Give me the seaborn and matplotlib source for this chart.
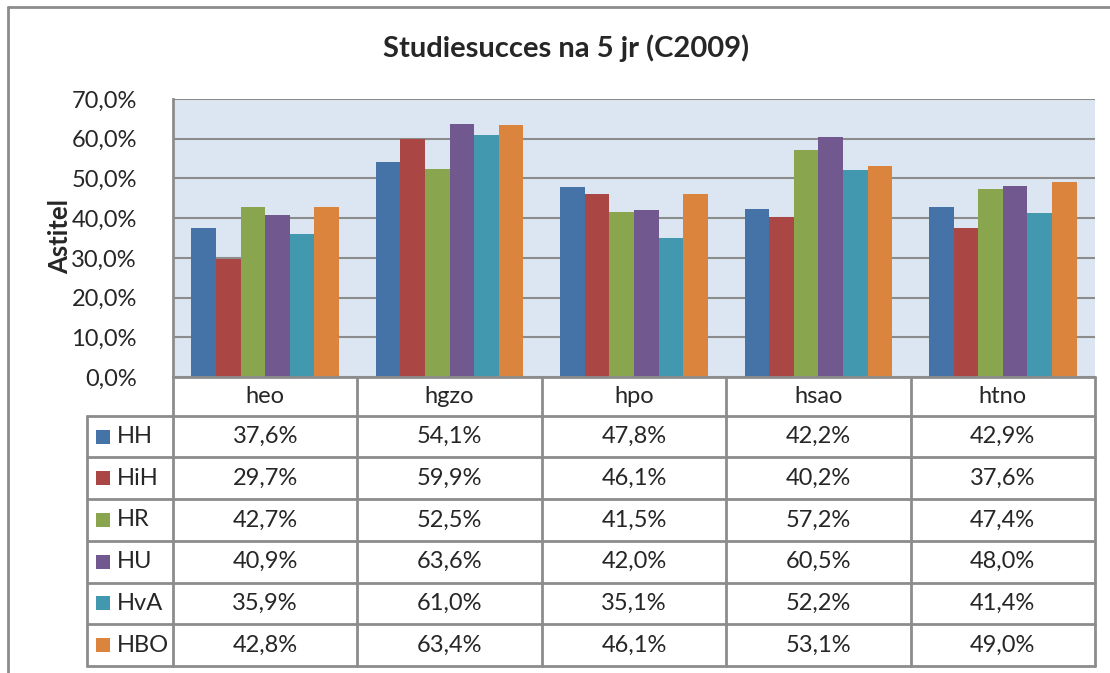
import matplotlib
matplotlib.use("Agg")
import matplotlib.pyplot as plt
import seaborn as sns
import pandas as pd

categories = ["heo", "hgzo", "hpo", "hsao", "htno"]
series_names = ["HH", "HiH", "HR", "HU", "HvA", "HBO"]
hh = [37.6, 54.1, 47.8, 42.2, 42.9]
hih = [29.7, 59.9, 46.1, 40.2, 37.6]
hr = [42.7, 52.5, 41.5, 57.2, 47.4]
hu = [40.9, 63.6, 42.0, 60.5, 48.0]
hva = [35.9, 61.0, 35.1, 52.2, 41.4]
hbo = [42.8, 63.4, 46.1, 53.1, 49.0]
yticks = [0, 10, 20, 30, 40, 50, 60, 70]
title = "Studiesucces na 5 jr (C2009)"
ylabel = "Astitel"

colors = ["#4572A7", "#AA4643", "#89A54E", "#71588F", "#4198AF", "#DB843D"]
all_values = [hh, hih, hr, hu, hva, hbo]

rows = []
for name, vals in zip(series_names, all_values):
    for c, v in zip(categories, vals):
        rows.append({"cat": c, "series": name, "value": v})
df = pd.DataFrame(rows)

sns.set_theme(style="white")
plt.rcParams["font.family"] = ["Lato", "DejaVu Sans"]

W, H = 1110, 673
fig = plt.figure(figsize=(W / 100, H / 100), dpi=100)
fig.patch.set_facecolor("white")

pl, pt, pr, pb = 173, 99, 1095, 377
ax = fig.add_axes([pl / W, 1 - pb / H, (pr - pl) / W, (pb - pt) / H])
ax.set_facecolor("#DCE6F2")
sns.barplot(data=df, x="cat", y="value", hue="series", order=categories,
            hue_order=series_names, palette=colors, saturation=1, width=0.8,
            gap=0, edgecolor="none", linewidth=0, legend=False, ax=ax, zorder=3)
ax.set_ylim(0, 70)
ax.set_xlim(-0.5, len(categories) - 0.5)
ax.set_yticks(yticks)
ax.set_yticklabels([f"{t:.1f}".replace(".", ",") + "%" for t in yticks], fontsize=17)
ax.tick_params(axis="y", length=0, pad=26)
ax.set_xticks([])
ax.set_xlabel("")
ax.set_ylabel("")
ax.grid(axis="y", color="#8C8C8C", linewidth=1.5, zorder=0)
ax.set_axisbelow(True)
for s in ["right", "bottom", "top"]:
    ax.spines[s].set_visible(False)
ax.spines["left"].set_color("#8C8C8C")
ax.spines["left"].set_linewidth(2)

# decoration / table overlay in pixel coordinates
d = fig.add_axes([0, 0, 1, 1], zorder=5)
d.set_xlim(0, W)
d.set_ylim(H, 0)
d.axis("off")
d.patch.set_visible(False)
lc = "#8C8C8C"
lw = 2
d.plot([8, 8], [7, H], color=lc, lw=lw)
d.plot([8, W], [7, 7], color=lc, lw=lw)

d.text(566, 48, title, ha="center", va="center", fontsize=21, fontweight="bold")
d.text(60, 236, ylabel, ha="center", va="center", rotation=90, fontsize=18.5, fontweight="bold")

ncat = len(categories)
colw = (pr - pl) / ncat
head_top, head_bot = pb, 415.7
row_h = (666 - head_bot) / len(series_names)
tbl_left = 87
tbl_bot = head_bot + row_h * len(series_names)

d.plot([pl, pr], [head_top, head_top], color=lc, lw=lw)
for r in range(len(series_names) + 1):
    y = head_bot + r * row_h
    d.plot([tbl_left, pr], [y, y], color=lc, lw=lw)
for i in range(ncat + 1):
    x = pl + i * colw
    d.plot([x, x], [head_top, tbl_bot], color=lc, lw=lw)
d.plot([tbl_left, tbl_left], [head_bot, tbl_bot], color=lc, lw=lw)

for i, c in enumerate(categories):
    d.text(pl + (i + 0.5) * colw, (head_top + head_bot) / 2, c, ha="center", va="center", fontsize=17)

for r, (name, vals, col) in enumerate(zip(series_names, all_values, colors)):
    yc = head_bot + (r + 0.5) * row_h
    d.add_patch(plt.Rectangle((96, yc - 7), 14, 14, color=col, lw=0))
    d.text(117, yc, name, ha="left", va="center", fontsize=17)
    for i, v in enumerate(vals):
        d.text(pl + (i + 0.5) * colw, yc, f"{v:.1f}".replace(".", ",") + "%",
               ha="center", va="center", fontsize=17)

fig.savefig("out.png", dpi=100, facecolor="white")
